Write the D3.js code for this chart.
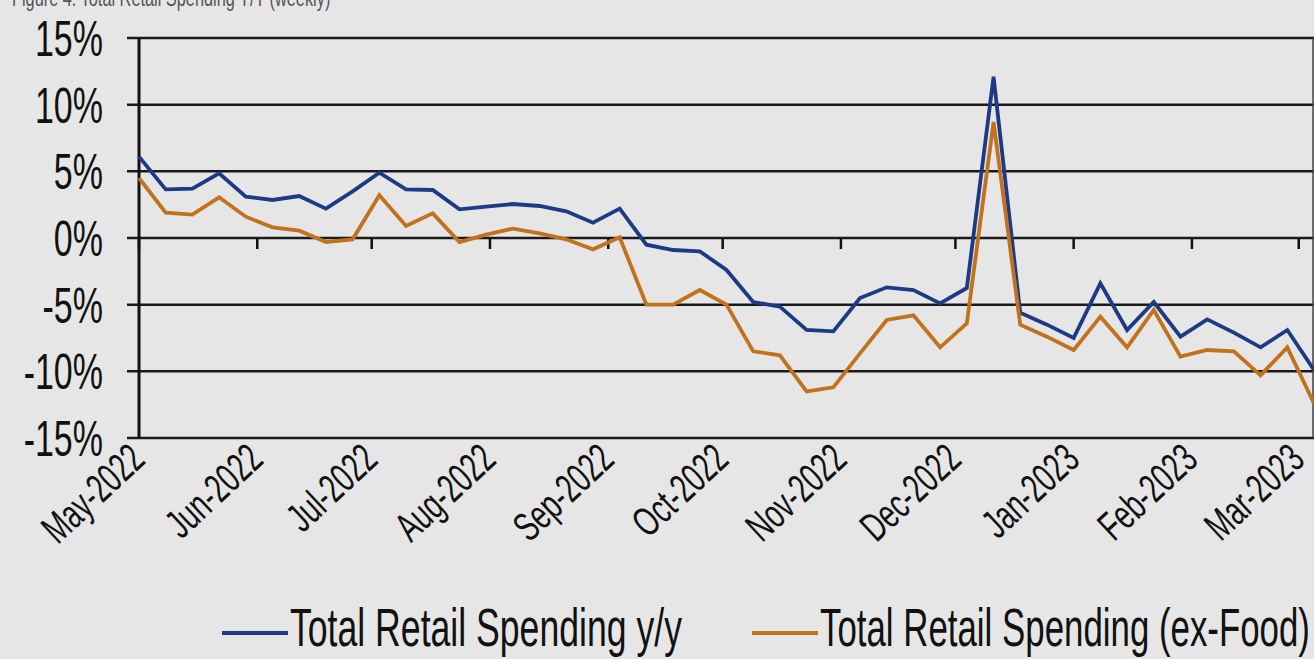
<!DOCTYPE html>
<html>
<head>
<meta charset="utf-8">
<script src="https://cdn.jsdelivr.net/npm/d3@7"></script>
<style>
  html, body { margin: 0; padding: 0; background: #e6e6e6; }
  svg { display: block; font-family: "Liberation Sans", Arial, sans-serif; }
</style>
</head>
<body>
<svg id="chart" width="1314" height="659"></svg>
<script>
// weekly observations, first week
const firstWeek = "2022-05-01";

// Total Retail Spending y/y (%)
const totalYoY = [
  6.1, 3.65, 3.7, 4.85, 3.1, 2.85, 3.15, 2.2, 3.5, 4.9,
  3.65, 3.6, 2.15, 2.35, 2.55, 2.4, 2.0, 1.15, 2.2, -0.5,
  -0.9, -1.0, -2.4, -4.8, -5.15, -6.9, -7.0, -4.5, -3.7, -3.9,
  -4.9, -3.75, 12.1, -5.6, -6.5, -7.5, -3.4, -6.9, -4.8, -7.4,
  -6.1, -7.1, -8.2, -6.9, -9.9
];

// Total Retail Spending (ex-Food) (%)
const exFoodYoY = [
  4.5, 1.9, 1.75, 3.05, 1.6, 0.8, 0.55, -0.3, -0.1, 3.2,
  0.9, 1.85, -0.3, 0.25, 0.7, 0.35, -0.1, -0.85, 0.05, -5.0,
  -5.0, -3.9, -5.0, -8.5, -8.8, -11.5, -11.2, -8.65, -6.15, -5.8,
  -8.2, -6.4, 8.7, -6.5, -7.4, -8.4, -5.9, -8.2, -5.4, -8.9,
  -8.4, -8.5, -10.3, -8.2, -12.4
];

const monthLabels = ["May-2022", "Jun-2022", "Jul-2022", "Aug-2022", "Sep-2022", "Oct-2022",
  "Nov-2022", "Dec-2022", "Jan-2023", "Feb-2023", "Mar-2023"];
const yTicks = [15, 10, 5, 0, -5, -10, -15];
const seriesNames = ["Total Retail Spending y/y", "Total Retail Spending (ex-Food)"];
const seriesColors = ["#1d3a86", "#c2711c"];

const svg = d3.select("#chart");
const plotLeft = 139, plotRight = 1314, plotTop = 38, plotBottom = 438;

const start = d3.timeParse("%Y-%m-%d")(firstWeek);
const weeks = totalYoY.map((d, i) => d3.timeWeek.offset(start, i));

const x = d3.scaleTime()
  .domain([weeks[0], weeks[weeks.length - 1]])
  .range([plotLeft, plotRight]);

const y = d3.scaleLinear()
  .domain([-15, 15])
  .range([plotBottom, plotTop]);

// text in the source picture is narrow; squeeze it with a horizontal scale
const narrow = 0.68;

// partly cut-off title at the very top
svg.append("text")
  .attr("transform", `translate(12,6) scale(${narrow},1)`)
  .attr("font-size", 24)
  .attr("fill", "#555")
  .text("Figure 4: Total Retail Spending Y/Y (weekly)");

// horizontal gridlines + y labels
const yAxis = svg.append("g");
yAxis.selectAll("line")
  .data(yTicks)
  .join("line")
  .attr("x1", plotLeft - 12).attr("x2", plotRight)
  .attr("y1", d => y(d)).attr("y2", d => y(d))
  .attr("stroke", "#1a1a1a")
  .attr("stroke-width", 2.5);

yAxis.selectAll("text")
  .data(yTicks)
  .join("text")
  .attr("transform", d => `translate(103,${y(d)}) scale(${narrow},1)`)
  .attr("dy", "0.36em")
  .attr("text-anchor", "end")
  .attr("font-size", 50)
  .attr("fill", "#111")
  .text(d => d + "%");

// left axis line and right frame
svg.append("line")
  .attr("x1", plotLeft).attr("x2", plotLeft)
  .attr("y1", plotTop).attr("y2", plotBottom)
  .attr("stroke", "#111").attr("stroke-width", 3);
svg.append("line")
  .attr("x1", plotRight - 1).attr("x2", plotRight - 1)
  .attr("y1", plotTop).attr("y2", plotBottom)
  .attr("stroke", "#444").attr("stroke-width", 1.5);

// month ticks sit on the zero line
const parseMonth = d3.timeParse("%b-%Y");
const months = monthLabels.map(parseMonth);

svg.append("g")
  .selectAll("line")
  .data(months)
  .join("line")
  .attr("x1", d => x(d)).attr("x2", d => x(d))
  .attr("y1", y(0)).attr("y2", y(0) + 11)
  .attr("stroke", "#111").attr("stroke-width", 2.5);

// rotated month labels under the plot
svg.append("g")
  .selectAll("text")
  .data(months)
  .join("text")
  .attr("transform", d => `translate(${x(d) + 8},462) rotate(-43) scale(0.67,1)`)
  .attr("text-anchor", "end")
  .attr("font-size", 41)
  .attr("fill", "#111")
  .text((d, i) => monthLabels[i]);

// the two series
const line = d3.line()
  .x((d, i) => x(weeks[i]))
  .y(d => y(d));

[totalYoY, exFoodYoY].forEach((values, k) => {
  svg.append("path")
    .datum(values)
    .attr("fill", "none")
    .attr("stroke", seriesColors[k])
    .attr("stroke-width", 3.8)
    .attr("stroke-linejoin", "miter")
    .attr("d", line);
});

// legend
const legendX = [222, 752];
const legendW = [392, 490];
const legend = svg.append("g");
seriesNames.forEach((name, k) => {
  legend.append("line")
    .attr("x1", legendX[k]).attr("x2", legendX[k] + 66)
    .attr("y1", 633).attr("y2", 633)
    .attr("stroke", seriesColors[k])
    .attr("stroke-width", 4);
  const t = legend.append("text")
    .attr("font-size", 54)
    .attr("fill", "#111")
    .text(name);
  const k2 = legendW[k] / t.node().getComputedTextLength();
  t.attr("transform", `translate(${legendX[k] + 68},646) scale(${k2},1)`);
});
</script>
</body>
</html>
